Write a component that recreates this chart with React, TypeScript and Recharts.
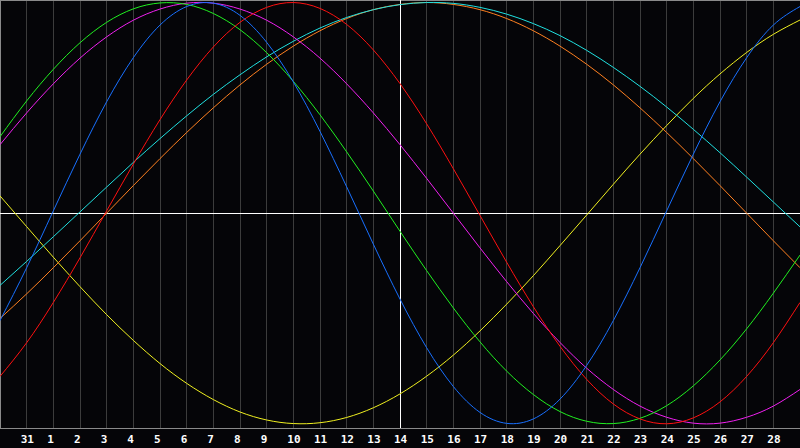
import React from 'react';
import { LineChart, Line, XAxis, YAxis, CartesianGrid, ReferenceLine } from 'recharts';

// day labels under each grid line (index 1..29); index 0 and 30 are the chart edges
const dayLabels = ['31', '1', '2', '3', '4', '5', '6', '7', '8', '9', '10', '11', '12', '13', '14',
    '15', '16', '17', '18', '19', '20', '21', '22', '23', '24', '25', '26', '27', '28'];
const tickPositions = [1, 2, 3, 4, 5, 6, 7, 8, 9, 10, 11, 12, 13, 14, 15, 16, 17, 18, 19, 20, 21, 22, 23, 24, 25, 26, 27, 28, 29];

// values at every day index 0..30
const physical = [-0.51, -0.259, 0.011, 0.28, 0.529, 0.738, 0.893, 0.981, 0.997, 0.939, 0.811, 0.623, 0.388, 0.125,
    -0.147, -0.408, -0.639, -0.823, -0.946, -0.998, -0.977, -0.883, -0.723, -0.51, -0.259, 0.011, 0.28, 0.529, 0.738,
    0.893, 0.981];
const emotional = [-0.775, -0.615, -0.424, -0.212, 0.011, 0.233, 0.444, 0.632, 0.789, 0.906, 0.977, 1.0, 0.972, 0.896,
    0.775, 0.615, 0.424, 0.211, -0.011, -0.233, -0.444, -0.632, -0.789, -0.906, -0.977, -1.0, -0.972, -0.896, -0.775,
    -0.615, -0.424];
const intellectual = [0.363, 0.533, 0.683, 0.809, 0.906, 0.97, 0.998, 0.991, 0.948, 0.871, 0.762, 0.626, 0.467, 0.291,
    0.105, -0.086, -0.273, -0.45, -0.611, -0.75, -0.861, -0.942, -0.988, -0.999, -0.974, -0.914, -0.82, -0.697, -0.549,
    -0.38, -0.199];
const intuitive = [0.325, 0.476, 0.614, 0.736, 0.837, 0.916, 0.969, 0.997, 0.997, 0.969, 0.916, 0.837, 0.736, 0.614,
    0.476, 0.325, 0.165, 0.0, -0.165, -0.325, -0.476, -0.614, -0.736, -0.837, -0.916, -0.969, -0.997, -0.997, -0.969,
    -0.916, -0.837];
const aesthetic = [0.082, -0.064, -0.209, -0.349, -0.482, -0.604, -0.714, -0.808, -0.885, -0.944, -0.982, -0.999, -0.995,
    -0.97, -0.924, -0.858, -0.774, -0.674, -0.559, -0.432, -0.297, -0.154, -0.009, 0.137, 0.28, 0.416, 0.545, 0.661,
    0.763, 0.849, 0.917];
const awareness = [-0.5, -0.383, -0.259, -0.131, 0.0, 0.131, 0.259, 0.383, 0.5, 0.609, 0.707, 0.793, 0.866, 0.924,
    0.966, 0.991, 1.0, 0.991, 0.966, 0.924, 0.866, 0.793, 0.707, 0.609, 0.5, 0.383, 0.259, 0.131, 0.0, -0.131, -0.259];
const spiritual = [-0.343, -0.229, -0.112, 0.006, 0.124, 0.241, 0.354, 0.462, 0.564, 0.657, 0.742, 0.816, 0.879, 0.929,
    0.966, 0.99, 1.0, 0.996, 0.977, 0.945, 0.9, 0.843, 0.773, 0.692, 0.602, 0.504, 0.398, 0.287, 0.171, 0.053, -0.065];

const rows = physical.map((p, i) => ({
    t: i,
    physical: p,
    emotional: emotional[i],
    intellectual: intellectual[i],
    intuitive: intuitive[i],
    aesthetic: aesthetic[i],
    awareness: awareness[i],
    spiritual: spiritual[i],
}));

const series = [
    { key: 'aesthetic', color: '#f0f020' },
    { key: 'awareness', color: '#ff8020' },
    { key: 'spiritual', color: '#20e0e0' },
    { key: 'intuitive', color: '#f020f0' },
    { key: 'intellectual', color: '#20f020' },
    { key: 'emotional', color: '#ff1010' },
    { key: 'physical', color: '#1870ff' },
];

const DayTick = (props: any) => {
    const { x, payload } = props;
    const label = dayLabels[payload.value - 1];
    return (
        <text x={x - 6} y={443} fill="#ffffff" fontSize={11} fontWeight="bold"
            fontFamily="'DejaVu Sans Mono', monospace" textAnchor="start">
            {label}
        </text>
    );
};

export default function App() {
    return (
        <div style={{ width: 800, height: 448, background: '#050508' }}>
            <style>{'body{margin:0;background:#050508;}'}</style>
            <LineChart width={800} height={448} data={rows} margin={{ top: 0, right: 0, bottom: 0, left: 0 }}>
                <CartesianGrid vertical horizontal={false} stroke="#3c3c3c" shapeRendering="crispEdges" />
                <XAxis
                    dataKey="t"
                    type="number"
                    domain={[0, 30]}
                    ticks={tickPositions}
                    interval={0}
                    height={20}
                    axisLine={false}
                    tickLine={false}
                    tick={<DayTick />}
                />
                <YAxis hide domain={[-1.02, 1.012]} />
                <ReferenceLine y={1.012} stroke="#8a8a8a" shapeRendering="crispEdges" />
                <ReferenceLine y={-1.02} stroke="#8a8a8a" shapeRendering="crispEdges" />
                <ReferenceLine x={0} stroke="#8a8a8a" shapeRendering="crispEdges" />
                <ReferenceLine y={0} stroke="#ffffff" shapeRendering="crispEdges" />
                <ReferenceLine x={15} stroke="#ffffff" shapeRendering="crispEdges" />
                {series.map((s) => (
                    <Line
                        key={s.key}
                        type="natural"
                        dataKey={s.key}
                        stroke={s.color}
                        strokeWidth={1}
                        dot={false}
                        activeDot={false}
                        isAnimationActive={false}
                    />
                ))}
            </LineChart>
        </div>
    );
}
